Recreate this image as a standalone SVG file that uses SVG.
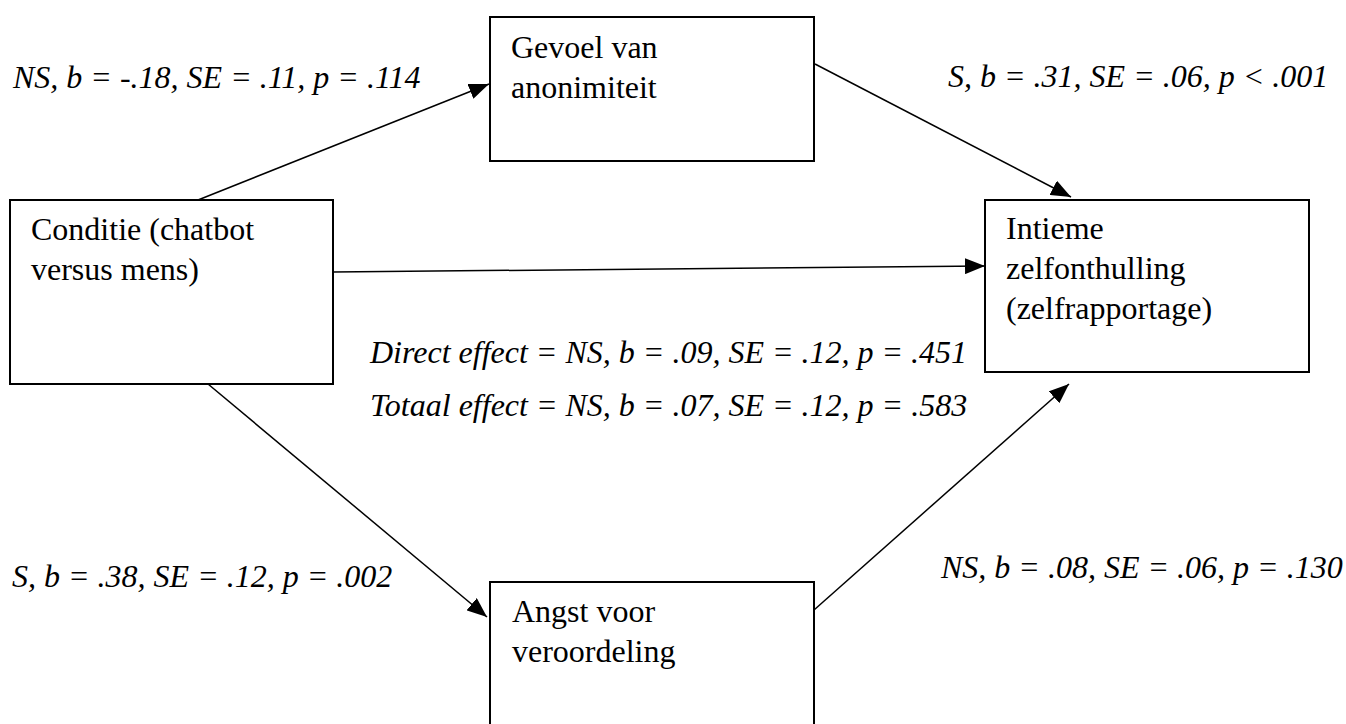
<svg xmlns="http://www.w3.org/2000/svg" width="1346" height="724" viewBox="0 0 1346 724">
<style>
.box{fill:#fff;stroke:#000;stroke-width:2}
.t{font-family:"Liberation Serif","Times New Roman",Tinos,serif;font-size:32px;fill:#000}
.i{font-style:italic}
.c{stroke:#000;stroke-width:1.5;fill:none;marker-end:url(#ah)}
</style>
<defs>
<marker id="ah" markerUnits="userSpaceOnUse" markerWidth="22" markerHeight="16" refX="20" refY="8" orient="auto">
<path d="M0,0 L20,8 L0,16 Z" fill="#000"/>
</marker>
</defs>
<rect width="1346" height="724" fill="#fff"/>
<g id="connectors">
<line class="c" x1="198" y1="200" x2="489" y2="84"/>
<line class="c" x1="815" y1="64" x2="1071" y2="197"/>
<line class="c" x1="333" y1="272" x2="985" y2="266"/>
<line class="c" x1="208" y1="384" x2="487" y2="617"/>
<line class="c" x1="814" y1="610" x2="1069" y2="384"/>
</g>
<g id="gevoel">
<rect class="box" x="490" y="17" width="324" height="144"/>
<text class="t" x="511" y="58">Gevoel van</text>
<text class="t" x="511" y="98">anonimiteit</text>
</g>
<g id="conditie">
<rect class="box" x="10" y="200" width="323" height="184"/>
<text class="t" x="31" y="240">Conditie (chatbot</text>
<text class="t" x="31" y="280">versus mens)</text>
</g>
<g id="intieme">
<rect class="box" x="985" y="200" width="324" height="172"/>
<text class="t" x="1006" y="239">Intieme</text>
<text class="t" x="1006" y="279">zelfonthulling</text>
<text class="t" x="1006" y="319">(zelfrapportage)</text>
</g>
<g id="angst">
<rect class="box" x="490" y="582" width="324" height="150"/>
<text class="t" x="512" y="622">Angst voor</text>
<text class="t" x="512" y="662">veroordeling</text>
</g>
<g id="labels">
<text class="t i" x="13" y="88">NS, b = -.18, SE = .11, p = .114</text>
<text class="t i" x="948" y="87">S, b = .31, SE = .06, p &lt; .001</text>
<text class="t i" x="370" y="363">Direct effect = NS, b = .09, SE = .12, p = .451</text>
<text class="t i" x="370" y="416">Totaal effect = NS, b = .07, SE = .12, p = .583</text>
<text class="t i" x="12" y="587">S, b = .38, SE = .12, p = .002</text>
<text class="t i" x="941" y="578">NS, b = .08, SE = .06, p = .130</text>
</g>
</svg>
